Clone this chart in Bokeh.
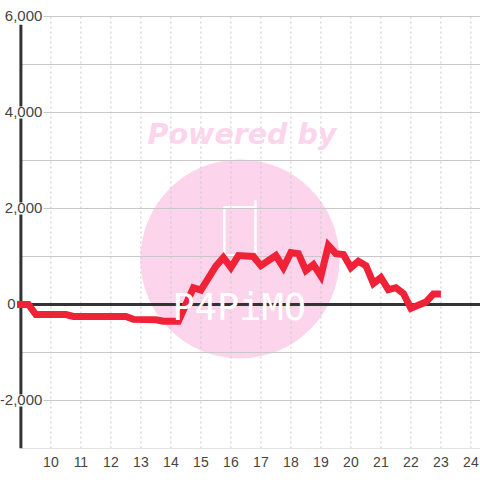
from bokeh.plotting import figure
from bokeh.embed import file_html
from bokeh.resources import INLINE
from bokeh.models import Range1d, Label, FixedTicker

hours = [8.87, 9.25, 9.5, 10.5, 10.75, 12.5, 12.75, 13.5, 13.75, 14.25, 14.75, 15, 15.5, 15.75, 16,
         16.25, 16.75, 17, 17.5, 17.75, 18, 18.25, 18.5, 18.75, 19, 19.25, 19.5, 19.75, 20, 20.25,
         20.5, 20.75, 21, 21.25, 21.5, 21.75, 22, 22.5, 22.75, 23]
profit = [0, 0, -210, -210, -250, -250, -310, -320, -350, -350, 350, 300, 800, 980, 770,
          1020, 1000, 810, 1020, 770, 1080, 1060, 710, 830, 590, 1230, 1060, 1040, 770, 900,
          810, 440, 560, 310, 350, 230, -80, 50, 220, 220]
x_ticks = list(range(10, 25))
y_labels = [6000, 4000, 2000, 0, -2000]
y_grid = [6000, 5000, 4000, 3000, 2000, 1000, 0, -1000, -2000, -3000]
X0, X1, Y0, Y1 = 8.32, 24.32, -3000, 6333.3

p = figure(width=480, height=480, output_backend="svg", toolbar_location=None,
           x_range=Range1d(X0, X1), y_range=Range1d(Y0, Y1),
           min_border_left=0, min_border_right=0, min_border_top=0, min_border_bottom=32,
           outline_line_color=None, background_fill_color="white")

p.xaxis.ticker = FixedTicker(ticks=x_ticks)
p.xaxis.axis_line_color = None
p.xaxis.major_tick_line_color = None
p.xaxis.minor_tick_line_color = None
p.xaxis.major_label_text_font = "Liberation Sans"
p.xaxis.major_label_text_font_size = "14px"
p.xaxis.major_label_text_color = "#444444"
p.xaxis.major_label_standoff = 2
p.yaxis.visible = False
p.grid.visible = False

# watermark
p.circle(x=[16.3], y=[948], radius=3.317, fill_color="#fcd5ec", line_color=None)
p.add_layout(Label(x=16.37, y=3540, text="Powered by", text_align="center", text_baseline="middle",
                   text_font="DejaVu Sans", text_font_style="bold italic", text_font_size="28.5px",
                   text_color="#fcd5ec", level="glyph"))
p.add_layout(Label(x=16.28, y=-60, text="P4PiMO", text_align="center", text_baseline="alphabetic",
                   text_font="DejaVu Sans Mono", text_font_size="37px", text_color="white",
                   level="glyph"))
p.line([16.82, 16.82, 16.82, 15.78, 15.78, 16.82], [1020, 2150, 2027, 2027, 1020, 1020],
       line_color="white", line_width=2.5, line_cap="round", line_join="round")

# grid
p.segment(x0=x_ticks, x1=x_ticks, y0=[Y0] * len(x_ticks), y1=[6000] * len(x_ticks),
          line_color="#c8c8c8", line_dash="2 3", line_width=1)
p.segment(x0=[9] * len(y_grid), x1=[X1] * len(y_grid), y0=y_grid, y1=y_grid,
          line_color="#c8c8c8", line_width=1)

# axes
p.segment(x0=[9], x1=[X1], y0=[0], y1=[0], line_color="#333333", line_width=3)
p.segment(x0=[9], x1=[9], y0=[Y0], y1=[5830], line_color="#333333", line_width=3)

p.line(hours, profit, line_color="#f02238", line_width=7, line_join="miter")

for v in y_labels:
    p.add_layout(Label(x=8.86 if v == 0 else 9.75, y=v, text=f"{v:,}", text_baseline="middle",
                       text_align="right", text_font="Liberation Sans", text_font_size="15px",
                       text_color="#444444",
                       background_fill_color=None if v == 0 else "white", padding=1))

open("out.html", "w").write(file_html(p, INLINE))
